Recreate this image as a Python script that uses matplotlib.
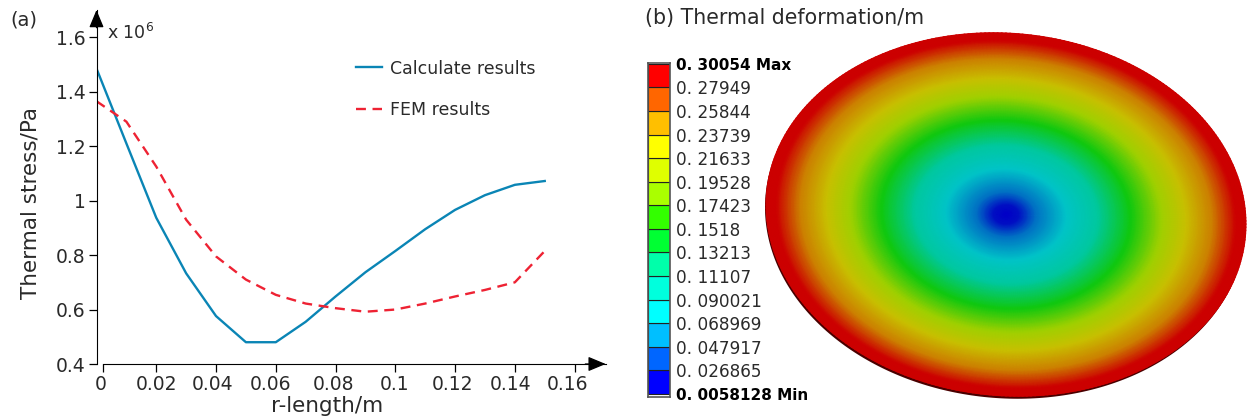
import numpy as np
import matplotlib
matplotlib.use('Agg')
import matplotlib.pyplot as plt
from matplotlib.colors import LinearSegmentedColormap
from matplotlib.transforms import ScaledTranslation

plt.rcParams['font.family'] = ['DejaVu Sans']
plt.rcParams['mathtext.default'] = 'regular'

TEXT = '#2a2a2a'
W, H = 1250, 420

# panel (a)
r_length = [0, 0.01, 0.02, 0.03, 0.04, 0.05, 0.06, 0.07, 0.08, 0.09, 0.1, 0.11, 0.12, 0.13, 0.14, 0.15]
calculate = [1.485, 1.21, 0.937, 0.733, 0.576, 0.48, 0.48, 0.555, 0.648, 0.737, 0.815, 0.895, 0.966, 1.02, 1.058, 1.072]
fem = [1.365, 1.29, 1.125, 0.93, 0.795, 0.71, 0.654, 0.622, 0.605, 0.592, 0.6, 0.622, 0.648, 0.672, 0.70, 0.815]
x_ticks = [0.0021, 0.02, 0.04, 0.06, 0.08, 0.1, 0.12, 0.14, 0.16]
x_labels = ['0', '0.02', '0.04', '0.06', '0.08', '0.1', '0.12', '0.14', '0.16']
x_label_shift = [-2, 0, -3, -5, -2, -1, -3, -4, -7]
y_ticks = [0.4, 0.6, 0.8, 1.0, 1.2, 1.4, 1.6]
y_labels = ['0.4', '0.6', '0.8', '1', '1.2', '1.4', '1.6']

# panel (b)
level_labels = ['0. 0058128 Min', '0. 026865', '0. 047917', '0. 068969', '0. 090021',
                '0. 11107', '0. 13213', '0. 1518', '0. 17423', '0. 19528',
                '0. 21633', '0. 23739', '0. 25844', '0. 27949', '0. 30054 Max']
level_colors = ['#0000ff', '#0066ff', '#00bfff', '#00ffff', '#00ffdd', '#00ffaa', '#00ff33',
                '#33ff00', '#aaff00', '#dfff00', '#ffff00', '#ffbf00', '#ff6600', '#ff0000']
disc_stops = [0.0, 0.05, 0.12, 0.25, 0.38, 0.52, 0.65, 0.75, 0.86, 0.96, 1.0]
disc_colors = ['#0000c8', '#0010c4', '#0070c4', '#00c4c8', '#00c8a0', '#10c810',
               '#a0d000', '#c8c000', '#cc8000', '#cc0000', '#cc0000']


def px_axes(x0, y0, x1, y1):
    return fig.add_axes([x0 / W, 1 - y1 / H, (x1 - x0) / W, (y1 - y0) / H])


fig = plt.figure(figsize=(12.5, 4.2), dpi=100)

ax = px_axes(96.5, 10, 605.7, 364)
ax.set_xlim(0, 0.1704)
ax.set_ylim(0.4, 1.70)
ax.plot(r_length, calculate, color='#0a85b5', lw=1.7, label='Calculate results')
ax.plot(r_length, fem, color='#ee2233', lw=1.7, dashes=(4.2, 2.8), label='FEM results')
ax.set_xticks(x_ticks)
ax.set_xticklabels(x_labels)
ax.set_yticks(y_ticks)
ax.set_yticklabels(y_labels)
ax.tick_params(labelsize=13.5, labelcolor=TEXT, length=5.5, width=0.9, pad=2.5)
for lab, dx in zip(ax.get_xticklabels(), x_label_shift):
    lab.set_transform(lab.get_transform() + ScaledTranslation(dx / 100, 0, fig.dpi_scale_trans))
for s in ['top', 'right']:
    ax.spines[s].set_visible(False)
ax.spines['bottom'].set_bounds(0.0021, 0.1704)
head = '-|>,head_length=0.6,head_width=0.25'
ax.annotate('', xy=(1.0, 0), xytext=(0.96, 0), xycoords='axes fraction',
            arrowprops=dict(arrowstyle=head, color='black', lw=0.9, mutation_scale=18, shrinkA=0, shrinkB=0))
ax.annotate('', xy=(0, 1.0), xytext=(0, 0.95), xycoords='axes fraction',
            arrowprops=dict(arrowstyle=head, color='black', lw=0.9, mutation_scale=18, shrinkA=0, shrinkB=0))
ax.set_xlabel('r-length/m', fontsize=15.5, color=TEXT, va='center')
ax.xaxis.set_label_coords(0.4525, -0.1186)
ax.set_ylabel('Thermal stress/Pa', fontsize=15.5, color=TEXT, va='center')
ax.yaxis.set_label_coords(-0.13, 0.455)
ax.legend(loc='upper left', bbox_to_anchor=(0.51, 0.86), frameon=False, fontsize=12.5,
          labelspacing=1.35, handlelength=1.5, handletextpad=0.45, labelcolor=TEXT,
          borderpad=0, borderaxespad=0)
fig.text(107 / W, 1 - 33 / H, 'x 10$^{6}$', fontsize=12.5, color=TEXT, va='center')
fig.text(10 / W, 1 - 20 / H, '(a)', fontsize=14, color=TEXT, va='center')
fig.text(645 / W, 1 - 18 / H, '(b) Thermal deformation/m', fontsize=14.8, color=TEXT, va='center')

# level bar, one cell per band, labels sit on the cell edges
cb = px_axes(648, 62.7, 670, 397)
cb.set_xlim(0, 1)
cb.set_ylim(-0.13, 14.05)
cb.bar(0.5, [1] * 14, width=1, bottom=np.arange(14), color=level_colors, edgecolor='#222222', linewidth=0.8)
cb.set_xticks([])
cb.yaxis.tick_right()
cb.set_yticks(np.arange(15))
cb.set_yticklabels(level_labels)
cb.tick_params(axis='y', length=0, pad=4, labelsize=12.2, labelcolor=TEXT)
for lab in [cb.get_yticklabels()[0], cb.get_yticklabels()[-1]]:
    lab.set_fontweight('bold')
    lab.set_fontsize(11)
    lab.set_color('black')
for s in cb.spines.values():
    s.set_color('#555555')
    s.set_linewidth(1.2)

# disc
disc = px_axes(760, 25, 1250, 405)
disc.set_xlim(760, 1250)
disc.set_ylim(405, 25)
disc.axis('off')
cmap = LinearSegmentedColormap.from_list('disc', list(zip(disc_stops, disc_colors)))
rr, tt = np.meshgrid(np.linspace(0, 1, 160), np.linspace(0, 2 * np.pi, 361))
xx = rr * np.cos(tt) * 240
yy = rr * np.sin(tt) * 181.5
shear = 0.04
t_edge = np.linspace(0, 2 * np.pi, 361)
disc.fill(1005 + 240 * np.cos(t_edge), 217 + 181.5 * np.sin(t_edge) + shear * 240 * np.cos(t_edge),
          color='#4a0000', lw=0)
disc.pcolormesh(1006 + xx, 214.5 + yy + shear * xx, rr, cmap=cmap, vmin=0, vmax=1, shading='gouraud')

fig.savefig('out.png', dpi=100)
